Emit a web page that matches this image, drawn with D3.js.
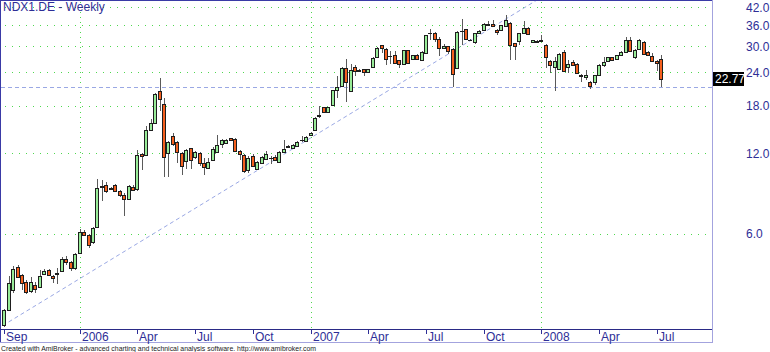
<!DOCTYPE html>
<html>
<head>
<meta charset="utf-8">
<script src="https://cdn.jsdelivr.net/npm/d3@7"></script>
<style>
  html, body { margin: 0; padding: 0; background: #fff; }
  svg { display: block; font-family: "Liberation Sans", Arial, sans-serif; }
</style>
</head>
<body>
<script>
'use strict';

// weekly bars, NDX1.DE, Sep 2005 - Jul 2008 (bar dated by the week's Friday)
const opens = [
  2.74, 3.13, 3.71, 4.53, 4.22, 3.96, 3.68, 3.86, 3.80, 4.26,
  4.42, 4.20, 4.24, 4.38, 4.86, 4.72, 4.48, 5.10, 6.10, 5.95,
  5.60, 6.35, 9.00, 9.10, 8.85, 9.15, 8.68, 8.40, 8.10, 9.00,
  8.80, 11.95, 11.8, 14.7, 15.5, 20.5, 18.3, 12.0, 13.9, 13.2,
  12.0, 11.2, 12.5, 11.6, 12.0, 11.0, 10.6, 11.35, 12.1, 13.0,
  13.1, 13.62, 13.6, 12.2, 11.8, 10.4, 11.75, 10.5, 11.05, 11.4,
  11.5, 11.6, 11.1, 12.1, 12.7, 12.6, 12.8, 13.4, 13.3, 14.0,
  14.7, 16.5, 17.8, 17.1, 18.2, 20.65, 21.4, 24.9, 20.5, 25.1,
  24.4, 24.65, 24.1, 25.2, 27.4, 30.3, 29.3, 27.7, 28.0, 26.6,
  25.8, 29.0, 26.9, 28.0, 26.8, 28.4, 33.6, 33.8, 32.0, 29.5,
  30.0, 29.4, 25.0, 34.2, 34.8, 31.7, 31.2, 33.6, 34.6, 36.0,
  36.4, 34.6, 34.5, 35.8, 36.8, 30.8, 31.4, 33.6, 35.2, 31.3,
  31.2, 31.6, 30.5, 26.4, 25.2, 24.7, 28.6, 25.2, 26.2, 25.7,
  23.2, 23.1, 22.2, 22.2, 23.4, 25.6, 26.4, 27.3, 27.0, 27.8,
  28.7, 31.7, 27.4, 29.4, 31.2, 28.6, 27.6, 26.5, 27.0
];
const highs = [
  3.15, 4.20, 4.56, 4.58, 4.25, 4.04, 4.14, 3.98, 4.40, 4.46,
  4.45, 4.22, 4.50, 4.92, 4.98, 4.75, 5.08, 6.25, 6.22, 6.00,
  6.35, 9.65, 9.55, 9.40, 8.95, 9.25, 8.75, 8.50, 9.10, 9.10,
  12.3, 12.0, 15.2, 16.1, 20.2, 22.9, 19.3, 13.3, 14.3, 13.3,
  12.1, 12.4, 12.6, 12.2, 12.1, 11.5, 11.5, 12.7, 14.0, 13.6,
  13.6, 13.7, 13.7, 12.3, 11.9, 11.75, 11.9, 11.2, 11.7, 12.2,
  11.75, 11.8, 12.2, 13.5, 12.9, 13.0, 13.3, 13.9, 13.9, 14.4,
  16.4, 18.0, 17.9, 17.9, 20.7, 23.2, 25.1, 26.9, 25.7, 25.6,
  24.7, 24.8, 24.8, 27.4, 29.9, 30.5, 29.5, 28.9, 28.9, 26.7,
  29.2, 29.2, 28.0, 28.2, 28.8, 33.2, 34.8, 34.0, 32.5, 30.7,
  30.2, 29.6, 34.3, 38.0, 35.0, 32.0, 33.8, 34.6, 36.6, 37.3,
  37.7, 34.8, 36.2, 39.3, 37.0, 31.0, 33.8, 37.2, 35.4, 31.8,
  31.6, 33.0, 30.7, 26.6, 27.3, 28.4, 29.0, 26.7, 26.8, 26.0,
  23.6, 24.5, 22.4, 23.5, 25.8, 27.3, 27.5, 27.5, 28.0, 28.8,
  32.4, 32.4, 29.4, 31.9, 31.4, 28.9, 28.3, 26.6, 27.8
];
const lows = [
  2.70, 3.10, 3.62, 4.10, 3.70, 3.60, 3.63, 3.63, 3.78, 4.24,
  4.18, 3.93, 3.90, 4.35, 4.60, 4.38, 4.42, 5.05, 5.90, 5.30,
  5.50, 6.30, 7.95, 8.55, 8.75, 8.60, 8.25, 7.00, 8.00, 8.65,
  8.70, 10.4, 11.7, 14.5, 15.4, 17.2, 9.75, 9.75, 12.8, 11.0,
  9.93, 10.5, 10.5, 11.4, 10.8, 9.93, 10.5, 11.3, 12.0, 12.6,
  13.0, 13.3, 12.1, 11.35, 10.1, 10.1, 10.7, 10.4, 11.0, 11.3,
  10.9, 11.3, 11.0, 12.0, 12.5, 12.5, 12.7, 13.2, 13.2, 13.9,
  14.6, 16.3, 17.0, 17.0, 18.1, 19.3, 21.3, 18.6, 20.3, 23.2,
  24.2, 23.2, 24.0, 25.1, 27.3, 28.3, 25.6, 25.7, 25.8, 25.0,
  25.6, 25.7, 26.7, 26.8, 26.6, 28.3, 31.7, 31.2, 27.7, 29.3,
  28.2, 21.1, 24.9, 30.3, 32.0, 31.5, 30.7, 33.4, 34.4, 35.9,
  35.8, 33.0, 34.3, 35.6, 26.7, 26.8, 30.5, 33.4, 33.0, 31.1,
  31.0, 31.2, 25.0, 23.9, 20.4, 24.5, 24.2, 23.9, 25.4, 23.6,
  22.1, 22.5, 20.9, 21.6, 23.2, 25.1, 26.2, 26.4, 26.8, 27.6,
  28.5, 28.6, 26.9, 29.2, 28.0, 27.7, 26.3, 24.3, 21.1
];
const closes = [
  3.13, 3.95, 4.46, 4.14, 3.93, 3.66, 3.98, 3.73, 4.20, 4.36,
  4.22, 4.12, 4.28, 4.86, 4.71, 4.48, 5.05, 6.10, 5.95, 5.45,
  6.30, 8.90, 9.02, 8.65, 8.90, 8.70, 8.42, 8.10, 9.05, 8.75,
  11.8, 11.75, 14.6, 15.5, 20.0, 19.05, 11.6, 13.2, 13.0, 12.1,
  10.8, 12.3, 11.35, 12.1, 11.0, 10.65, 11.15, 12.45, 12.9, 13.5,
  13.5, 13.5, 12.2, 11.9, 10.3, 11.5, 10.8, 11.1, 11.6, 11.9,
  11.52, 11.35, 12.15, 12.45, 12.72, 12.9, 13.2, 13.45, 13.75, 14.3,
  16.3, 16.6, 17.1, 17.8, 20.6, 21.1, 24.9, 22.1, 24.5, 24.3,
  24.45, 24.0, 24.65, 27.2, 29.7, 29.7, 27.0, 27.75, 26.1, 25.7,
  29.0, 26.1, 27.8, 27.0, 28.6, 33.0, 33.7, 32.0, 29.6, 30.2,
  28.9, 23.7, 33.9, 34.3, 32.1, 31.6, 33.7, 34.4, 36.4, 36.4,
  35.9, 33.9, 36.0, 37.6, 30.3, 30.2, 33.6, 35.2, 33.4, 31.6,
  31.4, 31.4, 27.3, 25.6, 26.5, 28.1, 24.4, 25.7, 25.6, 23.8,
  23.5, 23.45, 21.3, 23.4, 25.6, 26.3, 27.3, 26.6, 27.8, 28.6,
  31.7, 28.9, 29.2, 31.7, 28.1, 27.9, 26.4, 26.1, 22.77
];

const priceTicks = [6, 12, 18, 24, 30, 36, 42];
const monthTicks = ['2005-09', '2006-01', '2006-04', '2006-07', '2006-10', '2007-01',
  '2007-04', '2007-07', '2007-10', '2008-01', '2008-04', '2008-07'];
const monthLabels = ['Sep', '2006', 'Apr', 'Jul', 'Oct', '2007',
  'Apr', 'Jul', 'Oct', '2008', 'Apr', 'Jul'];
const supportLevel = 21.1;
const trendFrom = { bar: 1, price: 2.82 };
const trendTo = { bar: 120, price: 44.7 };

const width = 770;
const height = 352;
const plot = { left: 1, top: 0, right: 712, bottom: 329 };

const weeks = d3.timeFriday.range(new Date(2005, 8, 9), new Date(2008, 6, 12));
const bars = weeks.map((d, i) => ({
  date: d, open: opens[i], high: highs[i], low: lows[i], close: closes[i],
}));

const x = d3.scalePoint()
  .domain(weeks)
  .range([4.2, 4.2 + (weeks.length - 1) * 4.44]);

const y = d3.scaleLog()
  .domain([2.655, 44.7])
  .range([plot.bottom, plot.top]);

const svg = d3.select('body').append('svg')
  .attr('width', width)
  .attr('height', height);

const navy = '#2e2e96';
const gridColor = '#4fd84f';
const studyColor = '#9aa8e4';

svg.append('clipPath').attr('id', 'plotclip')
  .append('rect')
  .attr('x', plot.left).attr('y', plot.top)
  .attr('width', plot.right - plot.left).attr('height', plot.bottom - plot.top);

// grid
const grid = svg.append('g').attr('shape-rendering', 'crispEdges');
grid.selectAll('.hgrid')
  .data(priceTicks)
  .enter().append('line')
  .attr('x1', plot.left + 4).attr('x2', plot.right)
  .attr('y1', (d) => Math.round(y(d)) + 0.5)
  .attr('y2', (d) => Math.round(y(d)) + 0.5)
  .attr('stroke', gridColor)
  .attr('stroke-dasharray', '1,6');

const monthIndex = monthTicks.map((m) =>
  weeks.findIndex((d) => d3.timeFormat('%Y-%m')(d) === m));

grid.selectAll('.vgrid')
  .data(monthIndex.filter((i, k) => /^\d{4}$/.test(monthLabels[k])))
  .enter().append('line')
  .attr('x1', (i) => Math.round(x(weeks[i])) + 0.5)
  .attr('x2', (i) => Math.round(x(weeks[i])) + 0.5)
  .attr('y1', plot.top + 2).attr('y2', plot.bottom)
  .attr('stroke', gridColor)
  .attr('stroke-dasharray', '1,4');

// drawn studies: support line and trend line
const studies = svg.append('g').attr('clip-path', 'url(#plotclip)');
studies.append('line')
  .attr('x1', plot.left).attr('x2', plot.right)
  .attr('y1', Math.round(y(supportLevel)) + 0.5)
  .attr('y2', Math.round(y(supportLevel)) + 0.5)
  .attr('stroke', studyColor)
  .attr('stroke-dasharray', '4,3')
  .attr('shape-rendering', 'crispEdges');
studies.append('line')
  .attr('x1', x(weeks[trendFrom.bar])).attr('y1', y(trendFrom.price))
  .attr('x2', x(weeks[trendTo.bar])).attr('y2', y(trendTo.price))
  .attr('stroke', studyColor)
  .attr('stroke-dasharray', '4,3');

// candles
const candles = svg.append('g')
  .attr('clip-path', 'url(#plotclip)')
  .attr('shape-rendering', 'crispEdges');

const candle = candles.selectAll('.candle')
  .data(bars)
  .enter().append('g')
  .attr('class', 'candle');

candle.append('line')
  .attr('x1', (d) => Math.round(x(d.date)) + 0.5)
  .attr('x2', (d) => Math.round(x(d.date)) + 0.5)
  .attr('y1', (d) => y(d.high))
  .attr('y2', (d) => y(d.low))
  .attr('stroke', '#5a5a5a');

candle.append('rect')
  .attr('x', (d) => Math.round(x(d.date)) - 1.5)
  .attr('width', 3)
  .attr('y', (d) => Math.round(y(Math.max(d.open, d.close))) + 0.5)
  .attr('height', (d) => Math.max(0.01,
    Math.round(y(Math.min(d.open, d.close))) - Math.round(y(Math.max(d.open, d.close)))))
  .attr('fill', (d) => d.close > d.open ? '#98ec98' : '#f5601e')
  .attr('stroke', '#1e1e1e');

// frame
const frame = svg.append('g').attr('shape-rendering', 'crispEdges');
frame.append('line')
  .attr('x1', 0.5).attr('x2', 0.5).attr('y1', 0).attr('y2', 343)
  .attr('stroke', '#3a3aa6');
frame.append('line')
  .attr('x1', 0).attr('x2', plot.right + 1).attr('y1', 0.5).attr('y2', 0.5)
  .attr('stroke', '#3a3aa6');
frame.append('line')
  .attr('x1', plot.right + 0.5).attr('x2', plot.right + 0.5).attr('y1', 0).attr('y2', 343)
  .attr('stroke', '#a3a3de');
frame.append('line')
  .attr('x1', 0).attr('x2', plot.right + 1).attr('y1', 342.5).attr('y2', 342.5)
  .attr('stroke', '#a3a3de');
frame.append('line')
  .attr('x1', 0).attr('x2', plot.right).attr('y1', plot.bottom + 0.5).attr('y2', plot.bottom + 0.5)
  .attr('stroke', '#2a2a86');

// date axis
const dateAxis = svg.append('g');
dateAxis.selectAll('.tick')
  .data(monthIndex)
  .enter().append('line')
  .attr('x1', (i) => Math.round(x(weeks[i])) + 0.5)
  .attr('x2', (i) => Math.round(x(weeks[i])) + 0.5)
  .attr('y1', plot.bottom + 1).attr('y2', plot.bottom + 5)
  .attr('stroke', navy)
  .attr('shape-rendering', 'crispEdges');
dateAxis.selectAll('.label')
  .data(monthIndex)
  .enter().append('text')
  .attr('x', (i) => Math.round(x(weeks[i])) + 2)
  .attr('y', 341)
  .attr('font-size', 12)
  .attr('fill', navy)
  .text((i, k) => monthLabels[k]);

// price axis
svg.append('g').selectAll('text')
  .data(priceTicks)
  .enter().append('text')
  .attr('x', 746)
  .attr('y', (d) => y(d) + 4.5)
  .attr('font-size', 12)
  .attr('fill', navy)
  .text((d) => d.toFixed(1));

const last = bars[bars.length - 1];
const lastY = y(last.close);
svg.append('rect')
  .attr('x', 713).attr('y', Math.round(lastY) - 7)
  .attr('width', 31).attr('height', 14)
  .attr('fill', '#000');
svg.append('text')
  .attr('x', 715).attr('y', lastY + 4.5)
  .attr('font-size', 12)
  .attr('fill', '#fff')
  .text(last.close.toFixed(2));

// title and footer
svg.append('text')
  .attr('x', 3).attr('y', 11)
  .attr('font-size', 12)
  .attr('fill', navy)
  .text('NDX1.DE - Weekly');

svg.append('text')
  .attr('x', 1).attr('y', 351)
  .attr('font-size', 7)
  .attr('fill', '#222')
  .attr('textLength', 315)
  .attr('lengthAdjust', 'spacingAndGlyphs')
  .text('Created with AmiBroker - advanced charting and technical analysis software. http://www.amibroker.com');
</script>
</body>
</html>
